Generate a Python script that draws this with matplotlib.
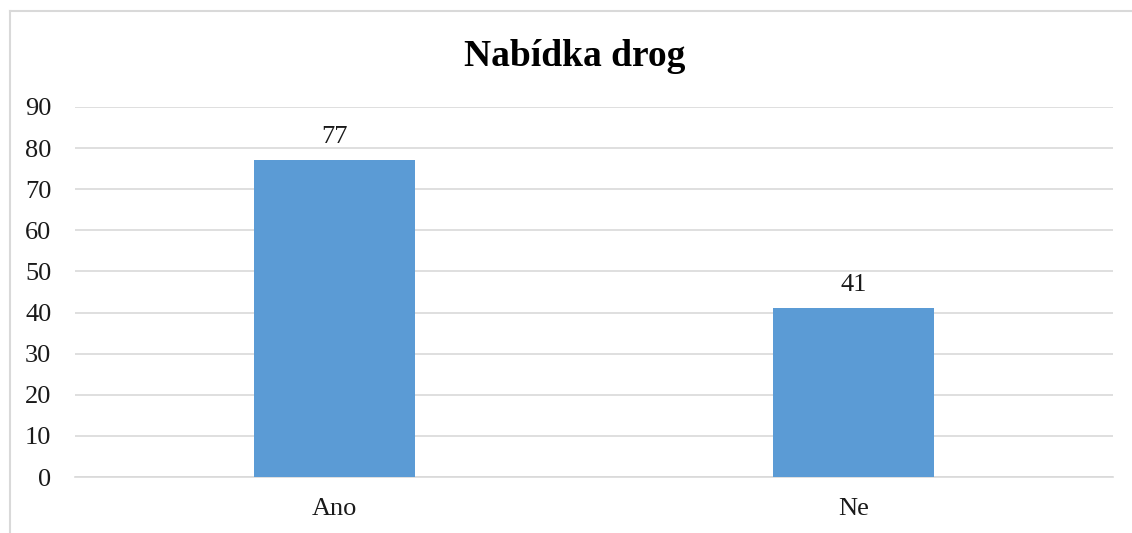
import matplotlib
matplotlib.use('Agg')
import matplotlib.pyplot as plt
from matplotlib.lines import Line2D

categories = ['Ano', 'Ne']
values = [77, 41]
yticks = [0, 10, 20, 30, 40, 50, 60, 70, 80, 90]
title = 'Nabídka drog'

plt.rcParams['font.family'] = ['Liberation Serif', 'DejaVu Serif']

W, H = 1132, 533
fig = plt.figure(figsize=(W / 100, H / 100), dpi=100)
ax = fig.add_axes([75 / W, 1 - 477 / H, (1113 - 75) / W, (477 - 107) / H])

grid_col = '#d9d9d9'
bar_col = '#5b9bd5'
txt_col = '#1a1a1a'

x = range(len(categories))
bars = ax.bar(x, values, width=0.312, color=bar_col, zorder=3)
for b, v in zip(bars, values):
    ax.annotate(str(v), (b.get_x() + b.get_width() / 2, v), xytext=(0, 9),
                textcoords='offset points', ha='center', va='bottom',
                fontsize=19, color=txt_col)

ax.set_xlim(-0.5, len(categories) - 0.5)
ax.set_ylim(0, 90)
ax.set_yticks(yticks)
ax.set_xticks(list(x))
ax.set_xticklabels(categories)
ax.yaxis.grid(True, color=grid_col, lw=1.2, zorder=0)
ax.tick_params(length=0, labelsize=19, labelcolor=txt_col)
ax.tick_params(axis='y', pad=17)
ax.tick_params(axis='x', pad=15)
for s in ['top', 'right', 'left']:
    ax.spines[s].set_visible(False)
ax.spines['bottom'].set_color(grid_col)
ax.spines['bottom'].set_linewidth(1.2)

fig.text(575 / W, 1 - 57 / H, title, ha='center', va='center',
         fontsize=27, fontweight='bold', color='black')

# chart border (only top and left visible)
fig.add_artist(Line2D([9.5 / W, 9.5 / W], [0, 1 - 11 / H], color=grid_col,
                      lw=1.5, transform=fig.transFigure))
fig.add_artist(Line2D([9.5 / W, 1], [1 - 11 / H, 1 - 11 / H], color=grid_col,
                      lw=1.5, transform=fig.transFigure))

fig.savefig('out.png', dpi=100)
